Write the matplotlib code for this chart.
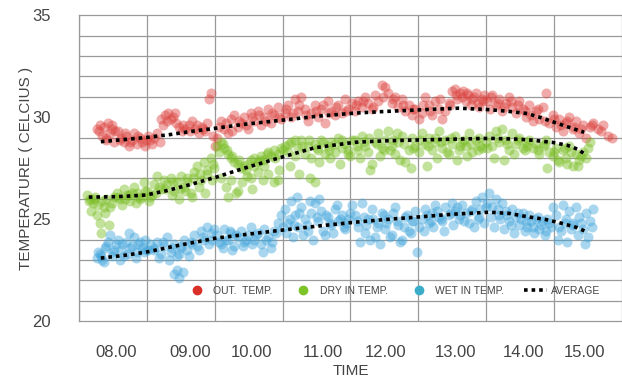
import matplotlib
matplotlib.use('Agg')
import matplotlib.pyplot as plt
from matplotlib.lines import Line2D
import numpy as np

plt.rcParams['font.family'] = ['Liberation Sans', 'DejaVu Sans']

# time in hours, temperature in celcius
out_time = [7.70, 7.75, 7.80, 7.86, 7.92, 7.97, 7.78, 7.84, 7.90, 7.96, 8.02, 8.06,
            8.10, 8.14, 8.18, 8.22, 8.26, 8.30, 8.34, 8.38, 8.42, 8.46, 8.50, 8.55, 8.60, 8.64,
            8.68, 8.72, 8.76, 8.80, 8.84, 8.88, 8.92, 8.97, 9.02, 9.07, 9.12, 9.17, 9.22, 9.27,
            9.32, 9.37, 9.40, 9.43, 9.46, 9.50,
            9.55, 9.60, 9.65, 9.70, 9.75, 9.80, 9.85, 9.90, 9.95, 10.00, 10.05, 10.10, 10.15,
            10.20, 10.25, 10.30, 10.35, 10.40, 10.45, 10.50,
            10.55, 10.60, 10.65, 10.70, 10.75, 10.80, 10.85, 10.90, 10.95, 11.00, 11.05, 11.10,
            11.15, 11.20, 11.25, 11.30, 11.35, 11.40, 11.45, 11.50,
            11.55, 11.60, 11.65, 11.70, 11.75, 11.80, 11.85, 11.90, 11.95, 12.00, 12.05, 12.10,
            12.15, 12.20, 12.25, 12.30, 12.35, 12.40, 12.45, 12.50,
            12.55, 12.60, 12.65, 12.70, 12.75, 12.80, 12.85, 12.90, 12.95, 13.00, 13.04, 13.08,
            13.12, 13.16, 13.20, 13.24, 13.28, 13.32, 13.36, 13.40, 13.44, 13.48,
            13.52, 13.56, 13.60, 13.65, 13.70, 13.75, 13.80, 13.85, 13.90, 13.95, 14.00, 14.05,
            14.10, 14.15, 14.20, 14.25, 14.30, 14.35, 14.40, 14.45,
            14.50, 14.55, 14.60, 14.65, 14.70, 14.75, 14.80, 14.85, 14.90, 14.95, 15.00, 15.05,
            15.10, 15.18, 15.25, 15.32, 15.38,
            7.73, 7.83, 7.93, 8.04, 8.12, 8.20, 8.32, 8.44, 8.52, 8.66,
            8.74, 8.86, 8.99, 9.09, 9.19, 9.29, 9.35, 9.52, 9.62, 9.72,
            9.82, 9.92, 10.02, 10.12, 10.22, 10.32, 10.42, 10.52, 10.62, 10.72,
            10.82, 10.97, 11.07, 11.17, 11.27, 11.42, 11.57, 11.67, 11.82, 11.97,
            12.12, 12.27, 12.42, 12.57, 12.67, 12.82, 12.97, 13.06, 13.14, 13.22,
            13.30, 13.38, 13.46, 13.58, 13.68, 13.78, 13.88, 13.98, 14.08, 14.18,
            14.28, 14.38, 14.52, 14.62, 14.72, 14.82, 14.92, 15.08, 15.22]
out_temp = [29.4, 29.6, 29.5, 29.7, 29.6, 29.3, 29.1, 28.9, 29.2, 28.8, 29.3, 29.0,
            28.8, 29.1, 28.6, 28.9, 29.2, 28.7, 29.0, 28.8, 28.6, 29.1, 28.9, 29.0, 29.2, 28.8,
            29.6, 30.1, 30.2, 29.9, 30.0, 29.7, 29.5, 29.3, 29.4, 29.6, 29.8, 29.4, 29.2, 29.5,
            29.3, 30.9, 31.2, 29.1, 28.6, 29.0,
            29.8, 29.4, 29.2, 29.9, 30.1, 29.5, 29.7, 30.0, 29.4, 30.2, 29.8, 30.3, 29.6,
            30.0, 30.4, 29.7, 30.1, 30.5, 29.9, 30.2,
            30.6, 30.0, 30.9, 30.3, 31.0, 30.4, 29.8, 30.2, 30.6, 30.0, 30.4, 29.7,
            30.8, 30.3, 30.1, 30.6, 30.2, 30.9, 30.4, 30.7,
            30.3, 30.8, 30.5, 31.0, 30.7, 30.4, 31.1, 30.8, 31.6, 31.5, 31.2, 30.7,
            31.0, 30.5, 30.9, 30.3, 30.6, 30.1, 30.4, 29.9,
            30.2, 31.0, 30.6, 30.1, 30.8, 30.4, 29.9, 30.3, 30.7, 31.3, 31.4, 30.9,
            31.2, 31.3, 30.8, 31.1, 30.6, 31.0, 31.2, 30.5, 30.9, 31.1,
            30.8, 30.4, 31.1, 30.6, 30.9, 30.3, 30.7, 31.0, 30.5, 30.2, 30.8, 30.4,
            30.0, 30.6, 29.8, 30.3, 29.9, 30.5, 31.2, 29.7,
            30.1, 29.5, 29.9, 29.3, 29.7, 30.0, 29.4, 29.8, 29.2, 29.6, 29.0, 29.5,
            29.7, 29.4, 29.6, 29.1, 29.0,
            29.3, 29.0, 29.4, 28.9, 29.2, 28.8, 29.1, 28.9, 28.7, 29.9,
            29.8, 30.2, 29.6, 29.3, 29.6, 29.4, 29.7, 29.5, 29.7, 29.3,
            29.8, 29.6, 30.0, 30.1, 29.8, 30.2, 30.0, 30.4, 30.2, 30.6,
            30.1, 30.3, 30.6, 30.2, 30.5, 30.3, 30.6, 30.8, 30.5, 31.0,
            30.9, 30.6, 30.4, 30.6, 30.3, 30.9, 30.6, 31.1, 31.0, 31.2,
            30.9, 30.7, 30.8, 31.0, 30.7, 30.5, 30.8, 30.6, 30.3, 30.1,
            30.4, 29.8, 29.9, 29.6, 29.8, 29.5, 29.4, 29.6, 29.3]

dry_time = [7.56, 7.60, 7.64, 7.68, 7.72, 7.76, 7.62, 7.70, 7.78, 7.84, 7.90, 7.96, 7.74, 7.82, 7.88,
            8.00, 8.05, 8.10, 8.15, 8.20, 8.25, 8.30, 8.35, 8.40, 8.45, 8.50, 8.55, 8.60, 8.65, 8.70,
            8.08, 8.18, 8.28, 8.38, 8.48, 8.58,
            8.75, 8.80, 8.85, 8.90, 8.95, 9.00, 9.05, 9.10, 9.15, 9.20, 9.25, 9.30, 9.35, 9.40, 9.45,
            8.82, 8.92, 9.02, 9.12, 9.22, 9.32, 9.42,
            9.50, 9.55, 9.60, 9.65, 9.70, 9.75, 9.80, 9.85, 9.90, 9.95, 10.00, 10.05, 10.10, 10.15,
            10.20, 10.25, 10.30, 10.35, 10.40, 10.45,
            9.55, 9.62, 9.70, 9.78, 9.86, 9.94, 10.02, 10.10, 10.18, 10.26, 10.34, 10.42,
            9.65, 9.80, 10.00, 10.20, 10.40,
            10.50, 10.55, 10.60, 10.65, 10.70, 10.75, 10.80, 10.85, 10.90, 10.95, 11.00, 11.05,
            11.10, 11.15, 11.20, 11.25, 11.30, 11.35, 11.40, 11.45, 11.50,
            10.58, 10.72, 10.88, 10.95, 11.02, 11.18, 11.32, 11.48,
            11.55, 11.60, 11.65, 11.70, 11.75, 11.80, 11.85, 11.90, 11.95, 12.00, 12.05, 12.10,
            12.15, 12.20, 12.25, 12.30, 12.35, 12.40, 12.45, 12.50,
            11.62, 11.78, 11.92, 12.08, 12.22, 12.38,
            12.55, 12.60, 12.65, 12.70, 12.75, 12.80, 12.85, 12.90, 12.95, 13.00, 13.05, 13.10,
            13.15, 13.20, 13.25, 13.30, 13.35, 13.40, 13.45, 13.50,
            12.62, 12.78, 12.92, 13.08, 13.22, 13.38,
            13.55, 13.60, 13.65, 13.70, 13.75, 13.80, 13.85, 13.90, 13.95, 14.00, 14.05, 14.10,
            13.62, 13.78, 13.92, 14.08,
            14.15, 14.20, 14.25, 14.30, 14.35, 14.40, 14.45, 14.50, 14.55, 14.60, 14.65, 14.70,
            14.75, 14.80, 14.85, 14.90, 14.95, 15.00, 15.05,
            14.42, 14.58, 14.72, 14.88,
            7.58, 7.66, 7.80, 7.92, 8.02, 8.12, 8.22, 8.32, 8.42, 8.52,
            8.62, 8.72, 8.84, 8.94, 9.04, 9.14, 9.24, 9.34, 9.44, 9.52,
            9.58, 9.64, 9.72, 9.82, 9.92, 10.04, 10.14, 10.24, 10.36, 10.48,
            10.56, 10.66, 10.76, 10.86, 10.98, 11.08, 11.16, 11.26, 11.36, 11.44,
            11.58, 11.68, 11.76, 11.88, 11.98, 12.12, 12.18, 12.28, 12.42, 12.52,
            12.64, 12.74, 12.84, 12.98, 13.12, 13.18, 13.28, 13.42, 13.52, 13.68,
            13.82, 13.98, 14.12, 14.28, 14.38, 14.52, 14.68, 14.78, 14.92, 15.02]
dry_temp = [26.2, 26.0, 25.8, 26.1, 25.7, 24.3, 25.4, 25.2, 25.9, 26.0, 25.6, 26.1, 24.8, 25.3, 24.7,
            26.3, 26.0, 26.5, 26.2, 25.9, 26.6, 26.3, 26.0, 26.8, 26.4, 26.1, 26.7, 27.1, 26.5, 26.9,
            25.7, 26.2, 25.8, 26.1, 25.9, 26.3,
            26.7, 27.0, 26.4, 26.8, 27.1, 26.6, 27.0, 26.3, 27.3, 27.6, 26.9, 27.8, 27.2, 28.0, 27.5,
            26.2, 26.0, 26.4, 26.1, 26.6, 26.3, 26.9,
            28.6, 28.8, 28.5, 28.2, 28.0, 27.8, 27.7, 27.5, 27.6, 27.7, 27.9, 28.0, 27.8, 28.1,
            27.9, 28.3, 28.1, 28.4, 28.2, 28.5,
            27.0, 26.6, 26.9, 26.3, 26.8, 27.1, 26.5, 27.3, 26.9, 27.2, 26.8, 27.4,
            26.1, 26.4, 27.0, 27.6, 26.9,
            28.6, 28.3, 28.8, 28.1, 28.5, 28.9, 28.2, 28.6, 28.0, 28.7, 28.4, 28.9,
            28.2, 28.6, 28.8, 28.3, 29.0, 28.5, 28.7, 28.2, 28.9,
            27.6, 27.2, 27.0, 26.8, 27.8, 28.0, 27.7, 28.1,
            28.9, 28.4, 29.1, 28.6, 28.3, 27.7, 28.8, 29.2, 28.5, 28.9, 29.3, 28.6,
            28.2, 28.8, 29.1, 27.8, 28.4, 29.0, 28.6, 28.3,
            28.0, 27.4, 28.1, 28.4, 27.9, 27.5,
            29.2, 28.7, 29.0, 28.4, 28.8, 29.3, 28.5, 28.9, 28.2, 28.7, 29.1, 28.4,
            28.8, 28.6, 29.2, 28.3, 28.9, 29.0, 28.5, 28.8,
            27.6, 28.0, 28.3, 27.9, 28.1, 28.4,
            29.1, 28.6, 29.3, 28.8, 29.4, 28.9, 28.4, 29.2, 28.7, 29.0, 28.5, 28.8,
            28.0, 27.9, 28.2, 28.4,
            28.9, 28.5, 28.7, 28.2, 28.6, 28.9, 28.3, 28.1, 28.5, 27.8, 28.4, 28.0,
            28.6, 27.6, 28.2, 27.9, 28.3, 28.0, 28.8,
            27.5, 27.9, 27.7, 27.6,
            25.9, 26.0, 25.6, 25.8, 26.1, 26.0, 26.3, 26.1, 26.4, 26.2,
            26.6, 26.5, 26.8, 26.5, 26.8, 27.0, 27.2, 27.4, 27.7, 28.3,
            28.7, 28.4, 28.1, 27.9, 27.4, 27.6, 27.9, 28.2, 28.0, 28.4,
            28.7, 28.9, 28.6, 28.9, 28.5, 28.8, 28.4, 28.7, 28.9, 28.4,
            28.6, 28.8, 29.0, 28.7, 28.4, 28.9, 29.2, 28.7, 28.5, 28.9,
            28.6, 29.0, 28.8, 29.0, 28.6, 28.9, 28.7, 28.6, 28.5, 29.0,
            28.7, 28.9, 28.6, 28.4, 28.7, 28.3, 28.5, 28.3, 28.1, 28.5]

wet_time = [7.70, 7.74, 7.78, 7.82, 7.86, 7.90, 7.94, 7.98, 8.02, 8.06, 8.10, 8.14, 8.18,
            8.22, 8.26, 8.30, 8.34, 8.38, 8.42, 8.46, 7.80, 7.92, 8.04, 8.16, 8.28, 8.40,
            8.50, 8.55, 8.60, 8.65, 8.70, 8.75, 8.80, 8.85, 8.90, 8.95, 9.00, 9.05, 9.10,
            9.15, 9.20, 9.25, 9.30, 9.35, 9.40, 9.45, 8.62, 8.78, 8.92, 9.08, 9.22, 9.38,
            8.85, 8.92, 8.98, 8.90,
            9.50, 9.55, 9.60, 9.65, 9.70, 9.75, 9.80, 9.85, 9.90, 9.95, 10.00, 10.05, 10.10,
            10.15, 10.20, 10.25, 10.30, 10.35, 10.40, 10.45, 9.58, 9.72, 9.88, 10.02, 10.18, 10.32,
            10.50, 10.55, 10.60, 10.65, 10.70, 10.75, 10.80, 10.85, 10.90, 10.95, 11.00, 11.05,
            11.10, 11.15, 11.20, 11.25, 11.30, 11.35, 11.40, 11.45, 11.50,
            10.52, 10.62, 10.78, 10.92, 11.08, 11.22, 11.38, 10.68, 10.88, 11.02, 11.28,
            11.55, 11.60, 11.65, 11.70, 11.75, 11.80, 11.85, 11.90, 11.95, 12.00, 12.05, 12.10,
            12.15, 12.20, 12.25, 12.30, 12.35, 12.40, 12.45, 12.50,
            11.62, 11.78, 11.92, 12.08, 12.22, 12.38, 12.48, 12.58,
            12.55, 12.60, 12.65, 12.70, 12.75, 12.80, 12.85, 12.90, 12.95, 13.00, 13.05, 13.10,
            13.15, 13.20, 13.25, 13.30, 13.35, 13.40, 13.45, 13.50,
            12.72, 12.88, 13.02, 13.18, 13.32, 13.48,
            13.55, 13.60, 13.65, 13.70, 13.75, 13.80, 13.85, 13.90, 13.95, 14.00, 14.05, 14.10,
            14.15, 14.20, 14.25, 14.30, 14.35, 14.40, 14.45,
            13.62, 13.78, 13.92, 14.08, 14.22, 14.38,
            14.50, 14.55, 14.60, 14.65, 14.70, 14.75, 14.80, 14.85, 14.90, 14.95, 15.00, 15.05,
            15.10, 14.58, 14.72, 14.88, 15.02, 14.62, 14.80, 14.98,
            7.72, 7.76, 7.84, 7.96, 8.08, 8.20, 8.32, 8.44, 8.56, 8.68,
            8.82, 8.96, 9.12, 9.28, 9.42, 9.52, 9.62, 9.68, 9.78, 9.92,
            10.08, 10.22, 10.38, 10.48, 10.58, 10.64, 10.72, 10.84, 10.98, 11.12,
            11.18, 11.32, 11.42, 11.48, 11.58, 11.68, 11.72, 11.82, 11.88, 11.98,
            12.02, 12.12, 12.18, 12.28, 12.32, 12.42, 12.62, 12.68, 12.78, 12.84,
            12.98, 13.08, 13.12, 13.28, 13.38, 13.42, 13.52, 13.58, 13.68, 13.72,
            13.82, 13.88, 13.98, 14.02, 14.12, 14.18, 14.28, 14.32, 14.42, 14.48,
            14.68, 14.78, 14.92, 15.08]
wet_temp = [23.1, 23.3, 23.0, 23.6, 23.9, 24.2, 23.4, 23.8, 24.0, 23.5, 23.2, 23.9, 24.3,
            23.7, 24.1, 23.4, 23.9, 23.6, 24.0, 23.5, 22.9, 23.2, 23.0, 23.3, 23.1, 23.4,
            23.8, 23.5, 23.9, 23.3, 23.7, 24.1, 23.4, 23.8, 23.2, 23.6, 24.0, 23.5, 23.9,
            24.2, 23.7, 24.4, 24.0, 24.6, 24.3, 24.5, 23.1, 23.0, 23.3, 23.2, 23.5, 23.8,
            22.3, 22.1, 22.4, 22.5,
            24.2, 23.8, 24.5, 24.0, 24.3, 23.7, 24.1, 24.4, 23.9, 24.2, 24.6, 24.0, 24.3,
            23.8, 24.5, 24.1, 23.6, 24.4, 24.8, 25.2, 23.6, 23.5, 23.7, 23.8, 23.4, 23.9,
            25.5, 24.8, 25.9, 25.2, 24.6, 25.6, 25.0, 24.4, 25.3, 25.8, 24.9, 25.4,
            24.2, 25.1, 24.7, 25.5, 24.9, 25.2, 24.5, 25.0, 25.7,
            24.3, 24.1, 24.2, 24.0, 24.4, 24.3, 24.6, 26.1, 25.9, 26.0, 25.7,
            25.2, 24.6, 25.8, 24.3, 25.0, 25.5, 24.1, 24.8, 25.3, 24.5, 25.0, 24.2,
            25.6, 24.7, 24.0, 25.1, 24.4, 24.9, 25.4, 24.6,
            23.9, 24.0, 23.8, 24.1, 23.9, 24.3, 23.4, 24.4,
            25.0, 25.5, 24.8, 25.3, 25.7, 25.1, 24.9, 25.6, 25.2, 25.8, 25.4, 25.0,
            25.7, 25.3, 24.8, 25.5, 25.9, 25.1, 26.1, 25.6,
            24.6, 24.4, 24.7, 24.9, 24.6, 24.8,
            26.3, 25.6, 26.0, 25.2, 25.8, 25.4, 24.9, 25.5, 25.1, 24.7, 25.3, 24.9,
            25.2, 24.6, 25.0, 24.5, 24.9, 24.4, 24.8,
            24.6, 24.5, 24.3, 24.4, 24.3, 24.2,
            25.6, 25.2, 24.6, 25.7, 25.0, 25.4, 24.8, 25.6, 25.1, 24.5, 25.3, 24.9,
            25.5, 24.0, 23.9, 24.2, 24.1, 24.4, 24.7, 23.8,
            23.4, 23.2, 23.7, 23.5, 23.8, 23.6, 23.8, 23.5, 23.6, 23.9,
            23.6, 23.7, 23.8, 24.1, 24.0, 23.9, 24.0, 24.4, 24.2, 24.0,
            24.2, 24.0, 24.3, 24.6, 25.0, 24.7, 25.3, 24.7, 25.1, 25.2,
            24.8, 25.0, 24.8, 25.3, 24.9, 25.1, 24.7, 25.0, 24.6, 25.2,
            24.8, 25.3, 24.9, 24.6, 25.2, 24.9, 25.2, 24.9, 25.4, 25.0,
            25.3, 25.6, 25.2, 25.4, 25.0, 25.5, 25.8, 25.1, 25.5, 25.0,
            25.2, 24.7, 25.3, 25.0, 24.6, 24.9, 25.1, 24.7, 25.0, 24.6,
            24.8, 24.5, 24.8, 24.6]

# smoothed averages
avg_out_time = [7.76, 8.1, 8.43, 8.8, 9.1, 9.48, 9.9, 10.46, 11.0, 11.55, 12.0, 12.47, 12.8, 13.1,
                13.5, 13.8, 14.12, 14.3, 14.48, 14.7, 14.97]
avg_out_temp = [28.8, 28.9, 29.0, 29.15, 29.3, 29.46, 29.65, 29.85, 30.05, 30.2, 30.28, 30.35,
                30.4, 30.44, 30.38, 30.3, 30.18, 30.0, 29.8, 29.55, 29.26]
avg_dry_time = [7.58, 8.0, 8.43, 8.75, 9.1, 9.48, 9.95, 10.46, 10.95, 11.55, 12.0, 12.47, 13.0,
                13.56, 14.0, 14.23, 14.5, 14.72, 14.88, 15.0]
avg_dry_temp = [26.08, 26.1, 26.18, 26.4, 26.7, 27.06, 27.55, 28.04, 28.5, 28.77, 28.84, 28.88,
                28.92, 28.96, 28.92, 28.86, 28.76, 28.62, 28.42, 28.14]
avg_wet_time = [7.76, 8.1, 8.43, 8.9, 9.48, 10.0, 10.46, 11.0, 11.55, 12.0, 12.47, 13.0, 13.56,
                13.85, 14.12, 14.4, 14.63, 14.85, 15.02]
avg_wet_temp = [23.09, 23.22, 23.38, 23.7, 24.07, 24.28, 24.46, 24.66, 24.85, 24.98, 25.1, 25.24,
                25.34, 25.28, 25.12, 24.98, 24.8, 24.6, 24.36]

# tick labels sit a little unevenly in the original
hour_ticks = [7.99, 9.1, 10.0, 11.07, 12.0, 13.05, 14.07, 14.97]
hour_labels = ['08.00', '09.00', '10.00', '11.00', '12.00', '13.00', '14.00', '15.00']

red = '#dc4440'
green = '#79bd22'
blue = '#42a5dc'
grid_color = '#999999'
text_color = '#444444'

fig = plt.figure(figsize=(6.22, 3.8), dpi=100)
ax = fig.add_axes([0.127, 0.155, 0.873, 0.805])

ax.scatter(out_time, out_temp, s=52, color=red, alpha=0.45, linewidths=0, zorder=3)
ax.scatter(dry_time, dry_temp, s=52, color=green, alpha=0.45, linewidths=0, zorder=3)
ax.scatter(wet_time, wet_temp, s=52, color=blue, alpha=0.45, linewidths=0, zorder=3)

dots = (0, (1, 1.1))
for t, v in [(avg_out_time, avg_out_temp), (avg_dry_time, avg_dry_temp), (avg_wet_time, avg_wet_temp)]:
    ax.plot(t, v, color='black', lw=2.6, linestyle=dots, dash_capstyle='butt', zorder=4)

ax.set_xlim(7.434, 15.526)
ax.set_ylim(20, 35)

ax.set_xticks(hour_ticks)
ax.set_xticklabels(hour_labels)
ax.set_yticks([20, 25, 30, 35])
ax.set_xticks(np.arange(7.434, 15.6, 1.0125), minor=True)
ax.set_yticks(np.arange(20, 35.5, 1), minor=True)
ax.tick_params(which='both', length=0)
ax.tick_params(axis='x', pad=17, labelsize=12, colors=text_color)
ax.tick_params(axis='y', pad=20, labelsize=12, colors=text_color)
ax.grid(which='minor', color=grid_color, lw=0.9)
ax.grid(which='major', visible=False)
for name, sp in ax.spines.items():
    sp.set_color(grid_color)
    sp.set_linewidth(0.9)
ax.spines['right'].set_visible(False)

ax.set_xlabel('TIME', fontsize=11, color=text_color, labelpad=3)
ax.set_ylabel('TEMPERATURE ( CELCIUS )', fontsize=11, color=text_color, labelpad=0)

handles = [
    Line2D([], [], marker='o', ls='', color='#d9302a', markersize=6),
    Line2D([], [], marker='o', ls='', color='#7cc42a', markersize=6),
    Line2D([], [], marker='o', ls='', color='#3cadc9', markersize=6),
    Line2D([], [], color='black', lw=2.6, linestyle=dots, dash_capstyle='butt'),
]
labels = ['OUT.  TEMP.', 'DRY IN TEMP.', 'WET IN TEMP.', 'AVERAGE']
ax.legend(handles, labels, loc='center', bbox_to_anchor=(0.578, 0.098), ncol=4,
          frameon=False, fontsize=7.5, handlelength=2.2, handletextpad=0.45,
          columnspacing=1.9, labelcolor=text_color)

fig.savefig('out.png', dpi=100)
